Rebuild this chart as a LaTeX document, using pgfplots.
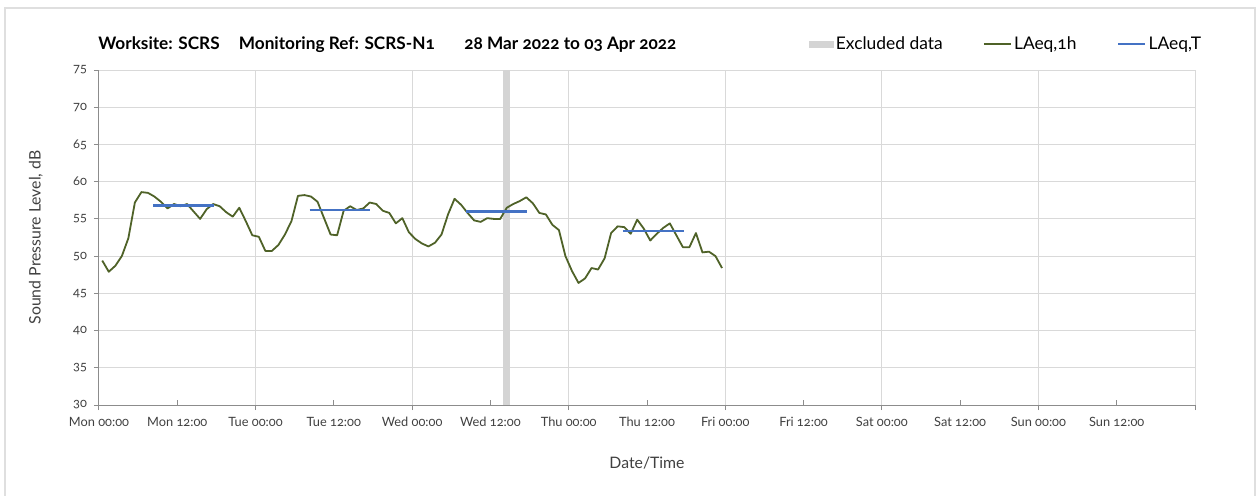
\documentclass[border=0pt]{standalone}
\usepackage{fontspec}
\setmainfont{Lato}[Numbers=OldStyle]
\usepackage{pgfplots}
\usepackage{pgfplotstable}
\pgfplotsset{compat=1.18}

\definecolor{lgreen}{HTML}{4F6228}
\definecolor{tblue}{HTML}{4472C4}
\definecolor{exband}{HTML}{D4D4D4}
\definecolor{gridc}{HTML}{D9D9D9}
\definecolor{axc}{HTML}{8C8C8C}
\definecolor{txt}{HTML}{404040}

% hourly LAeq,1h, Mon 00:00 = 0 h
\pgfplotstableread{
h spl
0.5 49.4
1.5 47.9
2.5 48.7
3.5 50.0
4.5 52.4
5.5 57.2
6.5 58.6
7.5 58.5
8.5 58.0
9.5 57.3
10.5 56.4
11.5 57.0
12.5 56.7
13.5 57.0
14.5 56.0
15.5 55.0
16.5 56.3
17.5 57.0
18.5 56.7
19.5 55.9
20.5 55.3
21.5 56.5
22.5 54.7
23.5 52.8
24.5 52.6
25.5 50.7
26.5 50.7
27.5 51.5
28.5 52.9
29.5 54.7
30.5 58.1
31.5 58.2
32.5 58.0
33.5 57.3
34.5 55.1
35.5 52.9
36.5 52.8
37.5 56.1
38.5 56.7
39.5 56.2
40.5 56.4
41.5 57.2
42.5 57.0
43.5 56.1
44.5 55.8
45.5 54.4
46.5 55.1
47.5 53.2
48.5 52.3
49.5 51.7
50.5 51.3
51.5 51.8
52.5 52.9
53.5 55.6
54.5 57.7
55.5 56.9
56.5 55.8
57.5 54.8
58.5 54.6
59.5 55.1
60.5 55.0
61.5 55.0
62.5 56.5
63.5 57.0
64.5 57.4
65.5 57.9
66.5 57.1
67.5 55.8
68.5 55.6
69.5 54.2
70.5 53.5
71.5 50.0
72.5 48.0
73.5 46.4
74.5 47.0
75.5 48.4
76.5 48.2
77.5 49.7
78.5 53.1
79.5 54.0
80.5 53.9
81.5 53.0
82.5 54.9
83.5 53.7
84.5 52.1
85.5 53.0
86.5 53.8
87.5 54.4
88.5 52.8
89.5 51.2
90.5 51.2
91.5 53.1
92.5 50.5
93.5 50.6
94.5 50.0
95.5 48.4
}\laeqhour

\begin{document}
\begin{tikzpicture}
\useasboundingbox (-49.5pt,-45pt) rectangle (579.5pt,202.5pt);
\draw[gray!25, line width=0.6pt] (-47pt,-46pt) -- (-47pt,198.5pt) -- (578pt,198.5pt) -- (578pt,-46pt);
\begin{axis}[
  at={(0,0)}, anchor=south west,
  scale only axis, width=548pt, height=167.5pt,
  xmin=0, xmax=168, ymin=30, ymax=75,
  axis x line*=bottom, axis y line*=left,
  axis line style={axc, line width=0.5pt},
  ytick={30,35,...,75},
  xtick={0,24,...,168},
  xticklabels={Mon 00:00,Tue 00:00,Wed 00:00,Thu 00:00,Fri 00:00,Sat 00:00,Sun 00:00,{}},
  extra x ticks={12,36,...,156},
  extra x tick labels={Mon 12:00,Tue 12:00,Wed 12:00,Thu 12:00,Fri 12:00,Sat 12:00,Sun 12:00},
  extra x tick style={grid=none, tick align=inside, xticklabel style={yshift=-2.5pt}},
  tick align=outside, major tick length=2.5pt,
  tick style={axc, line width=0.5pt},
  xmajorgrids, ymajorgrids,
  grid style={gridc, line width=0.5pt},
  /pgf/number format/assume math mode=true,
  ticklabel style={font=\fontsize{6.4}{7.5}\selectfont, text=txt},
  xlabel={Date/Time}, ylabel={Sound Pressure Level, dB},
  label style={font=\fontsize{7.9}{9}\selectfont, text=txt},
  xlabel style={at={(axis description cs:0.5,-0.173)}, anchor=center},
  ylabel style={at={(axis description cs:-0.0575,0.5)}, anchor=center},
  unbounded coords=jump,
  legend columns=3,
  legend style={at={(axis description cs:0.647,1.0776)}, anchor=west, draw=none, fill=none,
    inner sep=0pt, font=\fontsize{8.7}{10}\selectfont,
    nodes={inner sep=1.2pt, text height=0.72em, text depth=0.2em},
    /tikz/every even column/.append style={column sep=19pt}},
  legend cell align=left,
]
\addplot[fill=exband, draw=none, area legend,
  legend image code/.code={\fill[exband] (0pt,-1.75pt) rectangle (12.5pt,1.75pt);}]
  coordinates {(62,30) (62,75) (63,75) (63,30)} -- cycle;
\addlegendentry{Excluded data}
\addplot[lgreen, line width=0.9pt, line join=round,
  legend image code/.code={\draw[lgreen, line width=0.8pt] (0pt,0pt) -- (13.5pt,0pt);}]
  table[x=h, y=spl] {\laeqhour};
\addlegendentry{LAeq,1h}
\addplot[tblue, line width=1.25pt,
  legend image code/.code={\draw[tblue, line width=1.2pt] (0pt,0pt) -- (13.5pt,0pt);}]
  coordinates {(8.3,56.8) (17.6,56.8) (25,nan) (32.3,56.2) (41.6,56.2) (49,nan)
               (56.3,56.0) (65.6,56.0) (73,nan) (80.3,53.4) (89.6,53.4)};
\addlegendentry{LAeq,T}
\end{axis}
\begin{scope}[every node/.style={anchor=base west, inner sep=0pt, font=\bfseries\fontsize{8.6}{10}\selectfont}]
\node at (-0.5pt,178pt) {Worksite: SCRS};
\node at (69.75pt,178pt) {Monitoring Ref: SCRS-N1};
\node at (182.5pt,178pt) {28 Mar 2022 to 03 Apr 2022};
\end{scope}
\end{tikzpicture}
\end{document}
